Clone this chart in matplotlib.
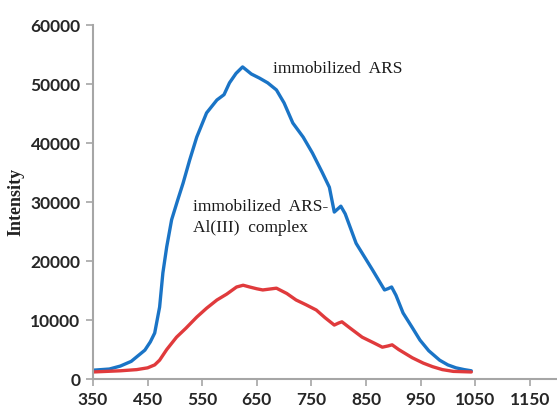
import matplotlib
matplotlib.use("Agg")
import matplotlib.pyplot as plt
import numpy as np

# emission spectra (wavelength in nm, intensity in a.u.)
wl_ars = [350, 380, 400, 420, 445, 455, 463, 472, 478, 485, 494, 505, 515, 527,
          540, 558, 577, 590, 600, 612, 624, 640, 655, 670, 686, 700, 716, 735,
          752, 770, 783, 792, 798, 804, 812, 832, 862, 884, 890, 897, 905, 918,
          935, 949, 965, 985, 1000, 1015, 1030, 1043]
int_ars = [1500, 1700, 2200, 3000, 4900, 6300, 7800, 12200, 18000, 22400, 27000,
           30300, 33200, 37100, 41000, 45100, 47300, 48200, 50200, 51800, 52900,
           51700, 51000, 50200, 49000, 46800, 43400, 41000, 38300, 35000, 32500,
           28300, 28800, 29300, 28000, 23000, 18500, 15100, 15300, 15600, 14200,
           11200, 8700, 6600, 4800, 3200, 2400, 1900, 1600, 1400]

wl_complex = [350, 400, 430, 450, 463, 472, 485, 503, 520, 540, 558, 577, 595,
              613, 625, 637, 650, 661, 686, 705, 722, 740, 759, 775, 792, 800,
              806, 820, 843, 865, 880, 890, 898, 910, 935, 955, 972, 990, 1010,
              1043]
int_complex = [1200, 1400, 1600, 1900, 2400, 3200, 5000, 7100, 8600, 10500,
               12000, 13400, 14400, 15600, 15900, 15600, 15300, 15100, 15400,
               14500, 13400, 12600, 11700, 10400, 9150, 9500, 9700, 8700, 7100,
               6100, 5400, 5600, 5800, 5000, 3600, 2700, 2100, 1600, 1300, 1200]

x_ticks = [350, 450, 550, 650, 750, 850, 950, 1050, 1150]
y_ticks = [0, 10000, 20000, 30000, 40000, 50000, 60000]

fig = plt.figure(figsize=(5.57, 4.17), dpi=100)
ax = fig.add_axes([0.167, 0.091, 0.833, 0.849])

ax.plot(wl_ars, int_ars, color="#1a74c6", lw=2.4,
        solid_capstyle="round", solid_joinstyle="round")
ax.plot(wl_complex, int_complex, color="#e03a3c", lw=2.4,
        solid_capstyle="round", solid_joinstyle="round")

ax.set_xlim(350, 1200)
ax.set_ylim(0, 60000)
ax.set_xticks(x_ticks)
ax.set_yticks(y_ticks)

tick_font = dict(family=["Lato", "DejaVu Sans"], size=12.5, fontweight="bold")
ax.set_xticklabels([str(v) for v in x_ticks], **tick_font)
ax.set_yticklabels([str(v) for v in y_ticks], **tick_font)

for side in ["top", "right"]:
    ax.spines[side].set_visible(False)
for side in ["left", "bottom"]:
    ax.spines[side].set_color("#a6a6a6")
    ax.spines[side].set_linewidth(1.5)
ax.tick_params(axis="both", colors="#a6a6a6", length=5, width=1.2,
               labelcolor="#262626", pad=4)

ax.set_ylabel("Intensity", family="Liberation Serif", fontweight="bold",
              size=13, color="#222222", labelpad=4)

ax.text(680, 52500, "immobilized  ARS", family="Liberation Serif", size=12.5,
        color="#1a1a1a", va="center", ha="left")
ax.text(533, 27400, "immobilized  ARS-\nAl(III)  complex", family="Liberation Serif",
        size=12.5, color="#1a1a1a", va="center", ha="left", linespacing=1.4)

fig.savefig("out.png", dpi=100)
